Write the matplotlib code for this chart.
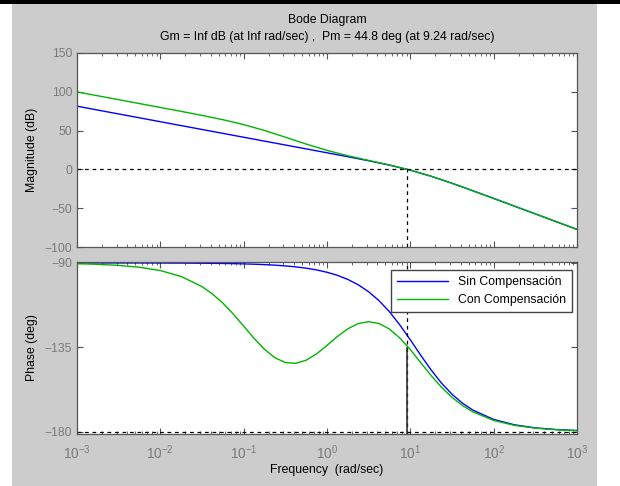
import numpy as np
import matplotlib
matplotlib.use('Agg')
import matplotlib.pyplot as plt
from matplotlib.patches import Rectangle
from matplotlib.ticker import FixedLocator, NullFormatter

plt.rcParams['font.family'] = ['Liberation Sans', 'DejaVu Sans']
plt.rcParams['mathtext.fontset'] = 'custom'
plt.rcParams['mathtext.rm'] = 'Liberation Sans'
plt.rcParams['mathtext.default'] = 'regular'

# frequency grid as log10 exponents (rad/sec)
mag_exp = [-3, -2.75, -2.5, -2.25, -2, -1.75, -1.5, -1.25, -1, -0.75, -0.5, -0.25,
           0, 0.25, 0.5, 0.75, 1, 1.25, 1.5, 1.75, 2, 2.25, 2.5, 2.75, 3]
mag_sin = [81.44, 76.44, 71.44, 66.44, 61.44, 56.44, 51.44, 46.44, 41.44, 36.44, 31.44, 26.43,
           21.41, 16.34, 11.12, 5.51, -1.0, -8.86, -17.88, -27.52, -37.40, -47.36, -57.35, -67.35, -77.35]
mag_con = [99.84, 94.84, 89.84, 84.83, 79.82, 74.76, 69.58, 64.05, 57.73, 50.16, 41.53, 32.68,
           24.53, 17.60, 11.56, 5.65, -0.95, -8.85, -17.88, -27.52, -37.40, -47.36, -57.35, -67.35, -77.35]

ph_exp = [-3, -2.75, -2.5, -2.25, -2, -1.75, -1.5, -1.375, -1.25, -1.125, -1, -0.875, -0.75,
          -0.625, -0.5, -0.375, -0.25, -0.125, 0, 0.125, 0.25, 0.375, 0.5, 0.625, 0.75, 0.875,
          1, 1.125, 1.25, 1.375, 1.5, 1.625, 1.75, 2, 2.25, 2.5, 2.75, 3]
ph_sin = [-90.00, -90.01, -90.02, -90.03, -90.05, -90.09, -90.16, -90.21, -90.28, -90.37, -90.50,
          -90.67, -90.89, -91.18, -91.58, -92.10, -92.80, -93.73, -94.97, -96.62, -98.79, -101.65,
          -105.37, -110.14, -116.06, -123.11, -131.00, -139.24, -147.10, -154.13, -160.00, -164.75,
          -168.44, -173.44, -176.30, -177.92, -178.83, -179.34]
ph_con = [-90.41, -90.73, -91.30, -92.30, -94.07, -97.21, -102.62, -106.53, -111.40, -117.21,
          -123.67, -130.22, -136.07, -140.54, -143.10, -143.52, -141.87, -138.47, -133.96, -129.21,
          -125.10, -122.31, -121.32, -122.29, -125.27, -130.06, -136.22, -143.16, -150.05, -156.34,
          -161.65, -165.99, -169.37, -173.97, -176.60, -178.09, -178.93, -179.39]

labels = ['Sin Compensación', 'Con Compensación']
decades = [-3, -2, -1, 0, 1, 2, 3]
wcp = 9.24   # crossover frequency
pm = 44.8    # phase margin

w_mag = 10.0 ** np.array(mag_exp)
w_ph = 10.0 ** np.array(ph_exp)

fs = 8.8

fig = plt.figure(figsize=(6.2, 4.86), dpi=100, facecolor='white')
# grey matlab window + black band on top
fig.patches.append(Rectangle((12 / 620, 0), 585 / 620, 482 / 486, transform=fig.transFigure,
                             facecolor='#cccccc', edgecolor='none', zorder=-10))
fig.patches.append(Rectangle((0, 482 / 486), 1, 4 / 486, transform=fig.transFigure,
                             facecolor='black', edgecolor='none', zorder=-10))

ax1 = fig.add_axes([77 / 620, 1 - 247 / 486, 500 / 620, 194 / 486])
ax2 = fig.add_axes([77 / 620, 1 - 434 / 486, 500 / 620, 172 / 486])

blue = '#0000ff'
green = '#00b400'

ax1.plot(w_mag, mag_sin, color=blue, lw=1)
ax1.plot(w_mag, mag_con, color=green, lw=1)
ax1.axhline(0, color='black', ls=(0, (3, 3)), lw=0.9)
ax1.plot([wcp, wcp], [-100, 0], color='black', ls=(0, (3, 3)), lw=0.9)

ax2.plot(w_ph, ph_sin, color=blue, lw=1, label=labels[0])
ax2.plot(w_ph, ph_con, color=green, lw=1, label=labels[1])
ax2.axhline(-180, color='black', ls=(0, (3, 3)), lw=0.9)
ax2.axvline(wcp, color='black', ls=(0, (3, 3)), lw=0.9)
ax2.plot([wcp, wcp], [-181.2, -180 + pm], color='#333333', lw=1.2)

major = [10.0 ** d for d in decades]
minor = [m * 10.0 ** d for d in decades[:-1] for m in range(2, 10)]
for ax in (ax1, ax2):
    ax.set_xscale('log')
    ax.set_xlim(1e-3, 1e3)
    ax.set_facecolor('white')
    ax.xaxis.set_major_locator(FixedLocator(major))
    ax.xaxis.set_minor_locator(FixedLocator(minor))
    ax.xaxis.set_minor_formatter(NullFormatter())
    ax.tick_params(which='both', direction='in', top=True, right=True, colors='#555555',
                   labelcolor='#7a7a7a', labelsize=fs)
    ax.tick_params(which='major', length=4, width=0.8)
    ax.tick_params(which='minor', length=2.5, width=0.6)
    for s in ax.spines.values():
        s.set_color('#555555')
        s.set_linewidth(0.9)

ax1.set_ylim(-100, 150)
ax1.set_yticks([-100, -50, 0, 50, 100, 150])
ax1.set_xticklabels([])
ax1.set_ylabel('Magnitude (dB)', fontsize=fs)

ax2.set_ylim(-181.2, -89.5)
ax2.set_yticks([-180, -135, -90])
ax2.set_xticklabels(['$10^{%d}$' % d for d in decades])
ax2.tick_params(axis='x', labelsize=9.8, pad=7)
ax2.set_ylabel('Phase (deg)', fontsize=fs)
ax2.set_xlabel('Frequency  (rad/sec)', fontsize=fs, labelpad=1)
ax1.yaxis.set_label_coords(-0.078, 0.5)
ax2.yaxis.set_label_coords(-0.078, 0.5)

leg = ax2.legend(loc='upper right', bbox_to_anchor=(0.99, 0.955), borderaxespad=0,
                 fancybox=False, edgecolor='#444444', framealpha=1, fontsize=fs,
                 handlelength=4.2, borderpad=0.5, labelspacing=0.5)
leg.get_frame().set_linewidth(1)

fig.text(327 / 620, 1 - 20 / 486, 'Bode Diagram', ha='center', va='center', fontsize=fs)
fig.text(327 / 620, 1 - 37 / 486,
         'Gm = Inf dB (at Inf rad/sec) ,  Pm = 44.8 deg (at 9.24 rad/sec)',
         ha='center', va='center', fontsize=fs)

fig.savefig('out.png', dpi=100, facecolor=fig.get_facecolor())
